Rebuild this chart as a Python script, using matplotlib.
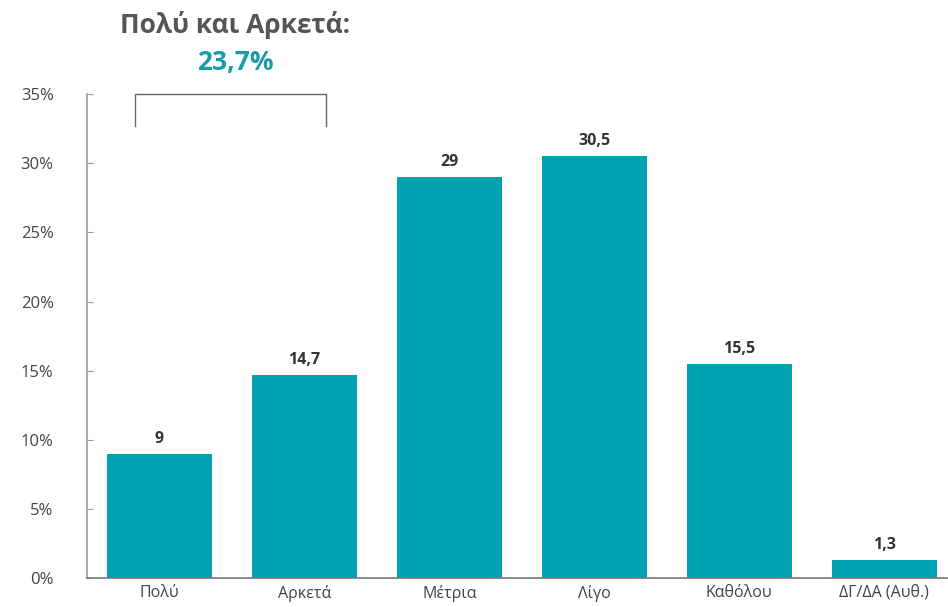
import matplotlib.pyplot as plt

plt.rcParams['font.family'] = ['Open Sans', 'DejaVu Sans']

categories = ['Πολύ', 'Αρκετά', 'Μέτρια', 'Λίγο', 'Καθόλου', 'ΔΓ/ΔΑ (Αυθ.)']
values = [9, 14.7, 29, 30.5, 15.5, 1.3]
value_labels = ['9', '14,7', '29', '30,5', '15,5', '1,3']
yticks = [0, 5, 10, 15, 20, 25, 30, 35]

teal = '#00A3AF'

fig = plt.figure(figsize=(9.48, 6.07), dpi=100)
ax = fig.add_axes([0.0918, 0.0478, 0.9082, 0.797])

x = range(len(categories))
ax.bar(x, values, width=0.724, color=teal, zorder=2)

for i, (v, lab) in enumerate(zip(values, value_labels)):
    ax.annotate(lab, (i, v), xytext=(0, 5), textcoords='offset points',
                ha='center', va='bottom', fontsize=11.5, fontweight='bold', color='#333333')

ax.set_xlim(-0.5, 5.44)
ax.set_ylim(0, 35)
ax.set_xticks(list(x))
ax.set_xticklabels(categories, fontsize=11.5, color='#444444')
ax.set_yticks(yticks)
ax.set_yticklabels([f'{t}%' for t in yticks], fontsize=12, color='#444444')
ax.tick_params(axis='x', length=0, pad=5)
ax.tick_params(axis='y', direction='in', length=4, color='#999999', pad=24)

for side in ['top', 'right']:
    ax.spines[side].set_visible(False)
ax.spines['left'].set_color('#999999')
ax.spines['bottom'].set_color('#777777')
ax.spines['left'].set_linewidth(1.2)
ax.spines['bottom'].set_linewidth(1.2)

# bracket over the first two bars
ax.plot([-0.169, -0.169, 1.148, 1.148], [32.7, 35, 35, 32.7],
        color='#666666', lw=1, clip_on=False)

fig.text(0.248, 0.958, 'Πολύ και Αρκετά:', ha='center', va='center',
         fontsize=19, fontweight='bold', color='#555555')
fig.text(0.248, 0.897, '23,7%', ha='center', va='center',
         fontsize=19, fontweight='bold', color='#1A9DA8')

fig.savefig('out.png', dpi=100)
